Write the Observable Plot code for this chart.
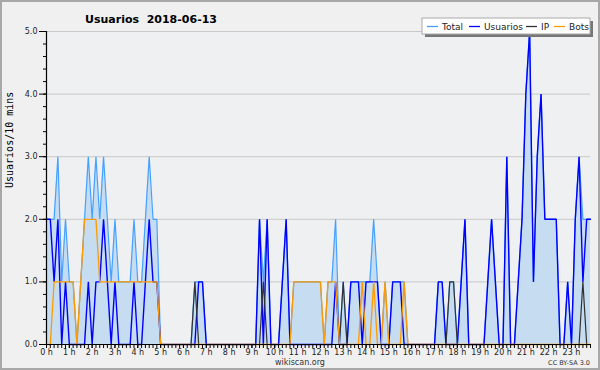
<!DOCTYPE html>
<html>
<head>
<meta charset="utf-8">
<script src="https://cdn.jsdelivr.net/npm/d3@7"></script>
<script src="https://cdn.jsdelivr.net/npm/@observablehq/plot@0.6"></script>
<style>
  html, body { margin: 0; padding: 0; background: #f0f0f0; }
  #chart { width: 600px; height: 370px; }
</style>
</head>
<body>
<div id="chart"></div>
<script>
// ---- Data (one value per 10 minutes, 144 slots) ----
const chartTitle = "Usuarios  2018-06-13";
const yLabel = "Usuarios/10 mins";
const seriesNames = ["Total", "Usuarios", "IP", "Bots"];
const hourLabels = ["0 h","1 h","2 h","3 h","4 h","5 h","6 h","7 h","8 h","9 h","10 h","11 h",
                    "12 h","13 h","14 h","15 h","16 h","17 h","18 h","19 h","20 h","21 h","22 h","23 h"];
const yTickValues = [0, 1, 2, 3, 4, 5];
const footerSite = "wikiscan.org";
const footerLicense = "CC BY-SA 3.0";

const totalValues = [
  2,2,2,3,1,2,  1,1,0,1,2,3,  2,3,2,3,2,1,  2,1,1,1,1,2,
  1,1,2,3,2,2,  0,0,0,0,0,0,  0,0,0,1,1,1,  0,0,0,0,0,0,
  0,0,0,0,0,0,  0,0,2,1,2,0,  0,0,1,2,0,1,  1,1,1,1,1,1,
  1,0,1,1,2,0,  1,0,1,1,1,1,  1,1,2,1,0,1,  0,1,1,1,1,0,
  0,0,0,0,0,0,  0,1,1,0,1,1,  0,1,2,0,0,0,  0,0,1,2,1,0,
  0,3,0,0,1,2,  4,5,1,3,4,2,  2,2,2,0,0,1,  0,2,3,2,2,2
];
const usuariosValues = [
  2,2,1,2,0,1,  0,0,0,0,0,1,  0,1,1,2,1,0,  1,0,0,0,0,1,
  0,0,1,2,1,1,  0,0,0,0,0,0,  0,0,0,0,1,1,  0,0,0,0,0,0,
  0,0,0,0,0,0,  0,0,2,0,2,0,  0,0,1,2,0,0,  0,0,0,0,0,0,
  0,0,0,0,1,0,  0,0,1,1,1,0,  1,1,1,1,0,0,  0,1,1,1,0,0,
  0,0,0,0,0,0,  0,1,1,0,0,0,  0,1,2,0,0,0,  0,0,1,2,1,0,
  0,3,0,0,1,2,  4,5,1,3,4,2,  2,2,2,0,0,1,  0,2,3,1,2,2
];
const ipValues = [
  0,0,0,0,0,0,  0,0,0,0,0,0,  0,0,0,0,0,0,  0,0,0,0,0,0,
  0,0,0,0,0,0,  0,0,0,0,0,0,  0,0,0,1,0,0,  0,0,0,0,0,0,
  0,0,0,0,0,0,  0,0,0,1,0,0,  0,0,0,0,0,0,  0,0,0,0,0,0,
  0,0,0,0,0,0,  1,0,0,0,0,0,  0,0,0,0,0,0,  0,0,0,0,0,0,
  0,0,0,0,0,0,  0,0,0,0,1,1,  0,0,0,0,0,0,  0,0,0,0,0,0,
  0,0,0,0,0,0,  0,0,0,0,0,0,  0,0,0,0,0,0,  0,0,0,1,0,0
];
const botsValues = [
  0,0,1,1,1,1,  1,1,0,1,2,2,  2,2,1,1,1,1,  1,1,1,1,1,1,
  1,1,1,1,1,1,  0,0,0,0,0,0,  0,0,0,0,0,0,  0,0,0,0,0,0,
  0,0,0,0,0,0,  0,0,0,0,0,0,  0,0,0,0,0,1,  1,1,1,1,1,1,
  1,0,1,1,1,0,  0,0,0,0,0,1,  0,0,1,0,0,1,  0,0,0,0,1,0,
  0,0,0,0,0,0,  0,0,0,0,0,0,  0,0,0,0,0,0,  0,0,0,0,0,0,
  0,0,0,0,0,0,  0,0,0,0,0,0,  0,0,0,0,0,0,  0,0,0,0,0,0
];

// ---- Styles ----
const colors = { Total: "#46a0ff", Usuarios: "#0000ff", IP: "#333333", Bots: "#ff9a00" };
const fillColor = "#c6dcf0";

const rows = totalValues.map((t, i) => ({
  i, total: t, usuarios: usuariosValues[i], ip: ipValues[i], bots: botsValues[i]
}));
const slotIndex = rows.map(d => d.i);
const hourIndex = slotIndex.filter(i => i % 6 === 0);
const yMinor = d3.range(0, 26).map(k => k / 5);

const plot = Plot.plot({
  width: 600,
  height: 370,
  marginLeft: 46,
  marginRight: 10,
  marginTop: 31,
  marginBottom: 26,
  style: { background: "none", fontFamily: "DejaVu Sans", fontSize: "8px", color: "#000", overflow: "visible" },
  x: { domain: [0, slotIndex.length - 1], axis: null },
  y: { domain: [0, 5], axis: null },
  marks: [
    Plot.frame({ fill: "#eef0f2", stroke: null }),
    Plot.gridY(yTickValues, { stroke: "#c8c8c8", strokeOpacity: 1, strokeWidth: 1 }),
    Plot.areaY(rows, { x: "i", y: "total", fill: fillColor, fillOpacity: 1 }),
    Plot.lineY(rows, { x: "i", y: "total", stroke: colors.Total, strokeWidth: 1.2, strokeLinejoin: "miter" }),
    Plot.lineY(rows, { x: "i", y: "usuarios", stroke: colors.Usuarios, strokeWidth: 1.4, strokeLinejoin: "miter" }),
    Plot.lineY(rows, { x: "i", y: "ip", stroke: colors.IP, strokeWidth: 1.2, strokeLinejoin: "miter" }),
    Plot.lineY(rows, { x: "i", y: "bots", stroke: colors.Bots, strokeWidth: 1.3, strokeLinejoin: "miter" }),
    Plot.ruleX([0], { stroke: "#000", strokeWidth: 1.2 }),
    Plot.ruleY([0], { stroke: "#000", strokeWidth: 1.2 }),
    Plot.axisY(yMinor, { tickSize: 3, tickFormat: () => "", label: null, stroke: "#000" }),
    Plot.axisY(yTickValues, { tickSize: 7, tickPadding: 2, tickFormat: d3.format(".1f"), label: null,
      fontSize: 8, fill: "#222", stroke: "#000" }),
    Plot.axisX(slotIndex, { tickSize: 4, tickFormat: () => "", label: null, stroke: "#000" }),
    Plot.axisX(hourIndex, { tickSize: 4, tickPadding: 1, tickFormat: i => hourLabels[i / 6], label: null,
      fontSize: 8, fill: "#222", stroke: "#000" }),
    Plot.text([yLabel], { frameAnchor: "left", rotate: -90, dx: -37, text: d => d,
      fontFamily: "DejaVu Sans Mono", fontSize: 10, fill: "#000" })
  ]
});

document.getElementById("chart").appendChild(plot);

// ---- Decorations: border, title, legend, footer ----
const svg = d3.select(plot);
svg.insert("rect", ":first-child")
  .attr("x", 1).attr("y", 1).attr("width", 598).attr("height", 368)
  .attr("fill", "#f0f0f0").attr("stroke", "#a8a8a8").attr("stroke-width", 2);

svg.append("text")
  .attr("x", 151).attr("y", 23)
  .attr("text-anchor", "middle")
  .attr("font-family", "DejaVu Sans").attr("font-weight", "bold").attr("font-size", 11)
  .attr("fill", "#000")
  .attr("xml:space", "preserve").style("white-space", "pre")
  .text(chartTitle);

const legend = svg.append("g").attr("text-anchor", "start");
legend.append("rect").attr("x", 425).attr("y", 21).attr("width", 168).attr("height", 16).attr("fill", "#777");
legend.append("rect").attr("x", 422).attr("y", 18).attr("width", 168).attr("height", 16)
  .attr("fill", "#fff").attr("stroke", "#aaa").attr("stroke-width", 1);
const legendX = [427, 469, 526, 554];
seriesNames.forEach((name, k) => {
  const x0 = legendX[k];
  legend.append("line").attr("x1", x0).attr("x2", x0 + 11).attr("y1", 26.5).attr("y2", 26.5)
    .attr("stroke", colors[name]).attr("stroke-width", 1.3);
  legend.append("text").attr("x", x0 + 15).attr("y", 30)
    .attr("text-anchor", "start")
    .attr("font-family", "DejaVu Sans").attr("font-size", 9).attr("fill", "#222")
    .text(name);
});

svg.append("text").attr("x", 300).attr("y", 365).attr("text-anchor", "middle")
  .attr("font-family", "DejaVu Sans").attr("font-size", 8).attr("fill", "#333").text(footerSite);
svg.append("text").attr("x", 590).attr("y", 365).attr("text-anchor", "end")
  .attr("font-family", "DejaVu Sans").attr("font-size", 6.5).attr("fill", "#333").text(footerLicense);
</script>
</body>
</html>
